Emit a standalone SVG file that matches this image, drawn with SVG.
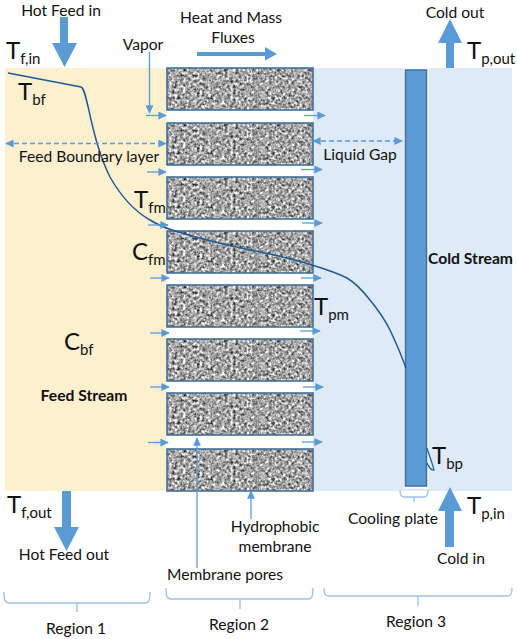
<svg xmlns="http://www.w3.org/2000/svg" width="517" height="639" viewBox="0 0 517 639">
<style>
text{font-family:Lato,"Liberation Sans",sans-serif;font-size:15.600px;fill:#111}
.c{text-anchor:middle}
.b{font-weight:700;font-size:15.700px}
.t{font-size:24px}
.s{font-size:15px}
.big{fill:#5B9BD5}
.thin{fill:none;stroke:#5B9BD5;stroke-width:1.300}
.brace{fill:none;stroke:#9DC3E6;stroke-width:1.400}
.dash{fill:none;stroke:#5B9BD5;stroke-width:1.500;stroke-dasharray:5 3}
.block{fill:#b9b9b9;filter:url(#grain)}
.edge{fill:none;stroke:#41719C;stroke-width:1.600}
</style>
<defs>
<filter id="grain" x="0" y="0" width="100%" height="100%" color-interpolation-filters="sRGB">
<feTurbulence type="fractalNoise" baseFrequency="0.36" numOctaves="2" seed="7"/>
<feColorMatrix type="matrix" values="1 1 0 0 -0.36  1 1 0 0 -0.36  1 1 0 0 -0.36  0 0 0 0 1"/>
<feGaussianBlur stdDeviation="0.6"/>
</filter>
<marker id="tip" viewBox="0 0 10 10" refX="9" refY="5" markerWidth="8.500" markerHeight="8" markerUnits="userSpaceOnUse" orient="auto-start-reverse" preserveAspectRatio="none"><path d="M0 0L10 5L0 10Z" fill="#5B9BD5"/></marker>
<g id="mblock"><rect class="block" x="167" y="68" width="146" height="42"/><rect class="edge" x="167" y="68" width="146" height="42"/></g>
</defs>

<g id="region-backgrounds">
<rect x="5" y="68" width="161" height="423" fill="#FDF0CF"/>
<rect x="166" y="68" width="346" height="423" fill="#DEEAF6"/>
<rect x="166" y="110" width="147" height="13" fill="#fff"/>
<rect x="166" y="165" width="147" height="12" fill="#fff"/>
<rect x="166" y="219" width="147" height="12" fill="#fff"/>
<rect x="166" y="272" width="147" height="13" fill="#fff"/>
<rect x="166" y="327" width="147" height="12" fill="#fff"/>
<rect x="166" y="381" width="147" height="12" fill="#fff"/>
<rect x="166" y="435" width="147" height="14" fill="#fff"/>
</g>

<g id="membrane">
<use href="#mblock"/>
<use href="#mblock" y="55"/>
<use href="#mblock" y="109"/>
<use href="#mblock" y="163"/>
<use href="#mblock" y="217"/>
<use href="#mblock" y="271"/>
<use href="#mblock" y="325"/>
<use href="#mblock" y="381"/>
</g>

<g id="cooling-plate">
<rect x="404" y="68" width="25" height="421" fill="#F0F6FB"/>
<rect x="405.500" y="70" width="21" height="416" fill="#5B9BD5" stroke="#41719C" stroke-width="1.500"/>
</g>

<g id="connectors">
<path class="big" d="M60 17H68V43H77L64.500 67L52 43H60Z"/>
<path class="big" d="M197 52H265V47L277 54L265 60.500V56H197Z"/>
<path class="big" d="M446 68V43H438L450 19L462 43H454V68Z"/>
<path class="big" d="M62 491H71V527H79L66.500 551L54 527H62Z"/>
<path class="big" d="M445 547V511H438L450 487L462 511H454V547Z"/>

<path d="M8 73L81 87C86 89 88 112 97 143C102 160 106 169 110 177C123 200 136 212 150 220C158 225 165 228 172 230C200 239 235 247 260 252C280 256 296 260 312 265C325 269 337 273 347 278C357 284 363 291 370 300C379 311 385 320 390 330C397 345 402 357 406 368" fill="none" stroke="#1F5A96" stroke-width="1.500"/>
<path d="M427 448C429 455 432 462 434 470C431 471 429 467 427 463" fill="none" stroke="#1F5A96" stroke-width="1.200"/>

<path class="thin" marker-end="url(#tip)" d="M146 115.500H166"/>
<path class="thin" marker-end="url(#tip)" d="M147 172H166"/>
<path class="thin" marker-end="url(#tip)" d="M148 225H168"/>
<path class="thin" marker-end="url(#tip)" d="M150 278H169"/>
<path class="thin" marker-end="url(#tip)" d="M150 333H169"/>
<path class="thin" marker-end="url(#tip)" d="M150 387H169"/>
<path class="thin" marker-end="url(#tip)" d="M148 442.500H168"/>
<path class="thin" marker-end="url(#tip)" d="M304 115.500H325"/>
<path class="thin" marker-end="url(#tip)" d="M301 169.500H322"/>
<path class="thin" marker-end="url(#tip)" d="M302 223H322"/>
<path class="thin" marker-end="url(#tip)" d="M301 278H321"/>
<path class="thin" marker-end="url(#tip)" d="M300 331H320"/>
<path class="thin" marker-end="url(#tip)" d="M303 387H323"/>
<path class="thin" marker-end="url(#tip)" d="M302 442H322"/>
<path class="thin" marker-end="url(#tip)" d="M149.500 52V113"/>
<path class="thin" marker-end="url(#tip)" d="M197 568V438"/>
<path class="thin" marker-end="url(#tip)" d="M251 519V491"/>
<path class="dash" marker-start="url(#tip)" marker-end="url(#tip)" d="M6 143.500H166"/>
<path class="dash" marker-start="url(#tip)" marker-end="url(#tip)" d="M313 141H402"/>

<path class="brace" d="M4 592C4 600 5 603 9 603H145C149 603 150 600 150 592M77 603V612"/>
<path class="brace" d="M166 588C166 596 167 599 171 599H308C312 599 313 596 313 588M240 599V609"/>
<path class="brace" d="M324 588C324 594 325 596 329 596H507C511 596 512 594 512 588M418 596V606"/>
<path class="brace" d="M400 490C400 495 401 497 404 497H424C427 497 428 495 428 490M414 497V502"/>
</g>

<g id="labels">
<text class="c" x="61" y="16">Hot Feed in</text>
<text class="c" x="231" y="23">Heat and Mass</text>
<text class="c" x="233" y="43">Fluxes</text>
<text class="c" x="143" y="50">Vapor</text>
<text class="c" x="455" y="18">Cold out</text>
<text class="c" x="89" y="162">Feed Boundary layer</text>
<text class="c" x="360" y="160">Liquid Gap</text>
<text class="b c" x="84" y="401">Feed Stream</text>
<text class="b c" x="470.500" y="264">Cold Stream</text>
<text class="c" x="64" y="560">Hot Feed out</text>
<text class="c" x="275" y="532">Hydrophobic</text>
<text class="c" x="275" y="552">membrane</text>
<text class="c" x="225" y="580">Membrane pores</text>
<text class="c" x="393" y="524">Cooling plate</text>
<text class="c" x="461" y="564">Cold in</text>
<text class="c" x="76" y="634">Region 1</text>
<text class="c" x="239" y="630">Region 2</text>
<text class="c" x="416" y="627">Region 3</text>
<text class="t" x="6" y="59">T<tspan class="s" dy="5">f,in</tspan></text>
<text class="t" x="18" y="100">T<tspan class="s" dy="5">bf</tspan></text>
<text class="t" x="134" y="208">T<tspan class="s" dy="5">fm</tspan></text>
<text class="t" x="132" y="260">C<tspan class="s" dy="5">fm</tspan></text>
<text class="t" x="64" y="350">C<tspan class="s" dy="5">bf</tspan></text>
<text class="t" x="314" y="315">T<tspan class="s" dy="5">pm</tspan></text>
<text class="t" x="467" y="59">T<tspan class="s" dy="5">p,out</tspan></text>
<text class="t" x="432" y="464">T<tspan class="s" dy="5">bp</tspan></text>
<text class="t" x="467" y="514">T<tspan class="s" dy="5">p,in</tspan></text>
<text class="t" x="7" y="513">T<tspan class="s" dy="5">f,out</tspan></text>
</g>
</svg>
